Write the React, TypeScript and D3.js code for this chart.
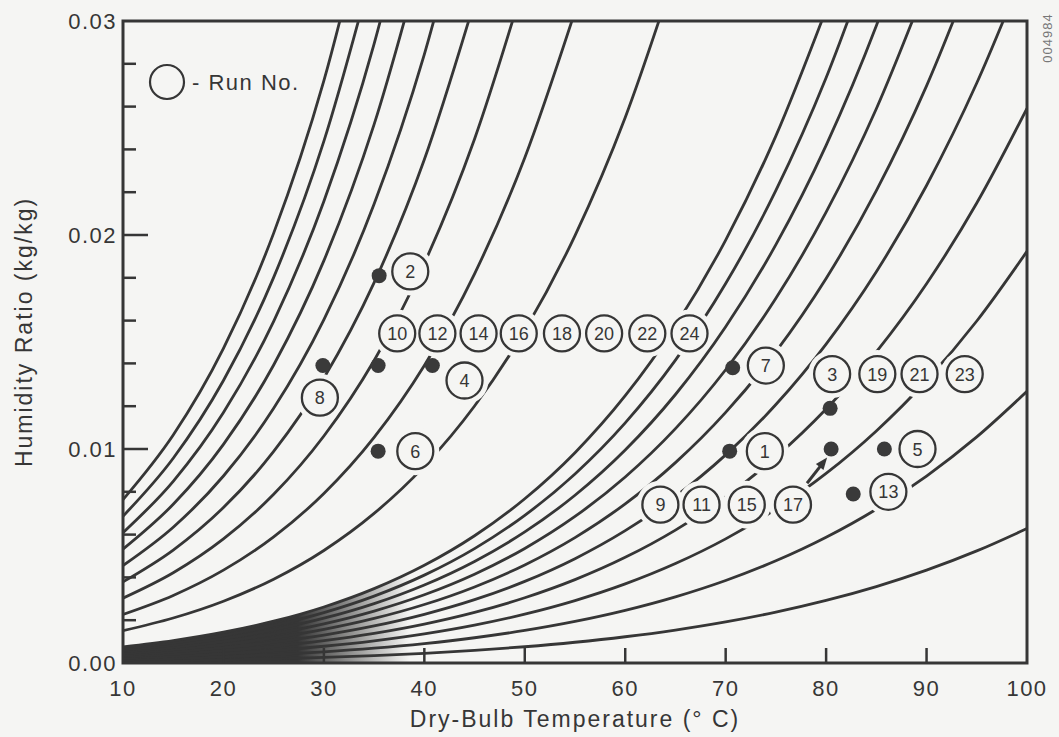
import React from 'react';
import * as d3 from 'd3';

// psychrometric chart, constant relative humidity lines + test runs

const PRESSURE = 101.325; // kPa, standard atmosphere

// saturation pressure of water from steam tables (kPa)
const tableTemps = [10, 15, 20, 25, 30, 35, 40, 45, 50, 55, 60, 65, 70, 75, 80, 85, 90, 95, 100];
const satPressure = [1.2282, 1.7058, 2.3393, 3.1699, 4.247, 5.6291, 7.3849, 9.5953, 12.352, 15.763,
  19.947, 25.043, 31.202, 38.597, 47.416, 57.868, 70.183, 84.609, 101.325];

// relative humidity of each drawn curve (%)
const rhLevels = [1, 2, 3, 4, 5, 6, 7, 8, 9, 10, 20, 30, 40, 50, 60, 70, 80, 90, 100];

const xTicks = [10, 20, 30, 40, 50, 60, 70, 80, 90, 100];
const yTicks = [0, 0.01, 0.02, 0.03];
const yMinorTicks = [0.002, 0.004, 0.006, 0.008, 0.012, 0.014, 0.016, 0.018, 0.022, 0.024, 0.026, 0.028];

// measured run states: [dry bulb °C, humidity ratio]
const runPoints: [number, number][] = [
  [35.5, 0.0181], [29.9, 0.0139], [35.4, 0.0139], [40.8, 0.0139], [35.4, 0.0099],
  [70.7, 0.0138], [80.4, 0.0119], [70.4, 0.0099], [80.5, 0.01], [85.8, 0.01], [82.7, 0.0079],
];

// run number callouts: [label, dry bulb, humidity ratio]
const runLabels: [string, number, number][] = [
  ['2', 38.6, 0.0183], ['8', 29.6, 0.0124], ['4', 44.0, 0.0132], ['6', 39.1, 0.0099],
  ['10', 37.3, 0.0154], ['12', 41.3, 0.0154], ['14', 45.4, 0.0154], ['16', 49.4, 0.0154],
  ['18', 53.7, 0.0154], ['20', 57.9, 0.0154], ['22', 62.2, 0.0154], ['24', 66.4, 0.0154],
  ['7', 74.0, 0.0139], ['3', 80.6, 0.0135], ['19', 85.1, 0.0135], ['21', 89.3, 0.0135], ['23', 93.8, 0.0135],
  ['1', 73.9, 0.0099], ['5', 89.1, 0.01], ['13', 86.2, 0.008],
  ['9', 63.5, 0.0074], ['11', 67.6, 0.0074], ['15', 72.1, 0.0074], ['17', 76.7, 0.0074],
];

// arrow from run 17 to its point
const arrow17: [number, number][] = [[78.1, 0.0084], [80.1, 0.0096]];

const humidityRatio = (rh: number, ps: number) => {
  const pv = (rh / 100) * ps;
  return (0.622 * pv) / (PRESSURE - pv);
};

const INK = '#363636';
const PAPER = '#f5f5f3';
const FONT = '"Liberation Sans", Arial, Helvetica, sans-serif';

export default function App() {
  const width = 1059;
  const height = 737;
  const x = d3.scaleLinear().domain([10, 100]).range([123, 1027]);
  const y = d3.scaleLinear().domain([0, 0.03]).range([663, 21]);

  const curves = rhLevels.map((rh) => {
    const pts: [number, number][] = [];
    for (let i = 0; i < tableTemps.length; i++) {
      const w = humidityRatio(rh, satPressure[i]);
      if (!isFinite(w) || w < 0) break;
      pts.push([tableTemps[i], w]);
      if (w > 0.03) break;
    }
    return { rh, pts };
  });

  const line = d3.line<[number, number]>()
    .x((d) => x(d[0]))
    .y((d) => y(d[1]))
    .curve(d3.curveMonotoneX);

  // dense band of the low humidity curves near the origin
  const tenPct = curves.find((c) => c.rh === 10)!.pts.filter((d) => d[0] <= 40);
  const band = d3.area<[number, number]>()
    .x((d) => x(d[0]))
    .y0(y(0))
    .y1((d) => y(d[1]))
    .curve(d3.curveMonotoneX);

  const ax = x(arrow17[0][0]);
  const ay = y(arrow17[0][1]);
  const bx = x(arrow17[1][0]);
  const by = y(arrow17[1][1]);
  const ang = Math.atan2(by - ay, bx - ax);
  const head = 13;
  const headPts = [
    [bx, by],
    [bx - head * Math.cos(ang - 0.38), by - head * Math.sin(ang - 0.38)],
    [bx - head * Math.cos(ang + 0.38), by - head * Math.sin(ang + 0.38)],
  ].map((p) => p.join(',')).join(' ');

  return (
    <svg width={width} height={height} style={{ position: 'absolute', left: 0, top: 0 }}
      fontFamily={FONT}>
      <defs>
        <clipPath id="plot">
          <rect x={x(10)} y={y(0.03)} width={x(100) - x(10)} height={y(0) - y(0.03)} />
        </clipPath>
        <linearGradient id="fade" gradientUnits="userSpaceOnUse" x1={x(10)} x2={x(40)} y1={0} y2={0}>
          <stop offset="0" stopColor={INK} stopOpacity={1} />
          <stop offset="0.58" stopColor={INK} stopOpacity={1} />
          <stop offset="0.95" stopColor={INK} stopOpacity={0} />
        </linearGradient>
      </defs>
      <rect width={width} height={height} fill={PAPER} />

      <g clipPath="url(#plot)">
        <path d={band(tenPct) || ''} fill="url(#fade)" />
        {curves.map((c) => (
          <path key={c.rh} d={line(c.pts) || ''} fill="none" stroke={INK} strokeWidth={2.8} />
        ))}
      </g>

      {/* frame */}
      <rect x={x(10)} y={y(0.03)} width={x(100) - x(10)} height={y(0) - y(0.03)}
        fill="none" stroke={INK} strokeWidth={3} />

      {xTicks.slice(1, -1).map((t) => (
        <line key={t} x1={x(t)} x2={x(t)} y1={y(0)} y2={y(0) - 15} stroke={INK} strokeWidth={2.5} />
      ))}
      {yTicks.slice(1, -1).map((t) => (
        <line key={t} x1={x(10)} x2={x(10) + 25} y1={y(t)} y2={y(t)} stroke={INK} strokeWidth={2.5} />
      ))}
      {yMinorTicks.map((t) => (
        <line key={t} x1={x(10)} x2={x(10) + 13} y1={y(t)} y2={y(t)} stroke={INK} strokeWidth={2.5} />
      ))}

      {xTicks.map((t) => (
        <text key={t} x={x(t)} y={696} textAnchor="middle" fontSize={22} letterSpacing={1.5}
          fill={INK}>{t}</text>
      ))}
      {yTicks.map((t) => (
        <text key={t} x={x(10) - 6} y={y(t) + 8} textAnchor="end" fontSize={22} letterSpacing={1.5}
          fill={INK}>{t.toFixed(2)}</text>
      ))}

      {/* run callouts: paper halos break the curves */}
      {runLabels.map(([lab, t, w]) => (
        <circle key={'h' + lab} cx={x(t)} cy={y(w)} r={24} fill={PAPER} />
      ))}
      {runLabels.map(([lab, t, w]) => (
        <g key={lab} transform={`translate(${x(t)},${y(w)})`}>
          <circle r={18} fill={PAPER} stroke={INK} strokeWidth={2.3} />
          <text y={6.5} textAnchor="middle" fontSize={18} fill={INK}>{lab}</text>
        </g>
      ))}

      {runPoints.map(([t, w], i) => (
        <circle key={i} cx={x(t)} cy={y(w)} r={7.5} fill="#3a3a3a" />
      ))}

      <line x1={ax} y1={ay} x2={bx - 8 * Math.cos(ang)} y2={by - 8 * Math.sin(ang)}
        stroke={INK} strokeWidth={3} />
      <polygon points={headPts} fill={INK} />

      {/* legend */}
      <circle cx={167} cy={82} r={17} fill="none" stroke={INK} strokeWidth={2.2} />
      <text x={192} y={90} fontSize={22} letterSpacing={1.5} fill={INK}>- Run No.</text>

      <text x={575} y={727} textAnchor="middle" fontSize={23} letterSpacing={2} fill={INK}>
        Dry-Bulb Temperature (° C)
      </text>
      <text transform="translate(32,332) rotate(-90)" textAnchor="middle" fontSize={23}
        letterSpacing={2} fill={INK}>Humidity Ratio (kg/kg)</text>

      <text transform="translate(1052,38) rotate(-90)" textAnchor="middle" fontSize={13}
        letterSpacing={1} fill="#777">004984</text>
    </svg>
  );
}
